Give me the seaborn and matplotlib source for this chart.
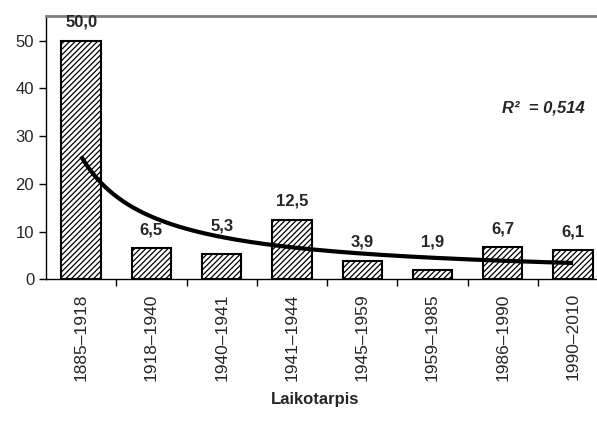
import matplotlib
matplotlib.use("Agg")
import matplotlib.pyplot as plt
import seaborn as sns
import numpy as np

periods = ["1885–1918", "1918–1940", "1940–1941", "1941–1944",
           "1945–1959", "1959–1985", "1986–1990", "1990–2010"]
values = [50.0, 6.5, 5.3, 12.5, 3.9, 1.9, 6.7, 6.1]
r2_label = "R²  = 0,514"

sns.set_style("ticks")
plt.rcParams["font.family"] = ["Liberation Sans", "DejaVu Sans"]
plt.rcParams["hatch.linewidth"] = 0.9

fig = plt.figure(figsize=(5.97, 4.21), dpi=100)
ax = fig.add_axes([0.077, 0.3366, 0.923, 0.6254])

sns.barplot(x=periods, y=values, color="white", edgecolor="black",
            linewidth=1.5, width=0.56, saturation=1, ax=ax)
for p in ax.patches:
    p.set_hatch("//////")

# value labels (two were nudged up off the trendline in the original)
raised = {2: 7, 5: 7}
for i, v in enumerate(values):
    ax.annotate(f"{v:.1f}".replace(".", ","), (i, v), xytext=(0, 8 + raised.get(i, 0)),
                textcoords="offset points", ha="center", va="bottom",
                fontsize=12, fontweight="bold")

# power trendline (y = b * x^a), fitted on the data
xs = np.arange(1, len(values) + 1)
a, lnb = np.polyfit(np.log(xs), np.log(values), 1)
xx = np.linspace(1, len(values), 200)
ax.plot(xx - 1, np.exp(lnb) * xx ** a, color="black", lw=3, solid_capstyle="butt")

ax.text(7.17, 35.9, r2_label, ha="right", va="center",
        fontsize=12, fontweight="bold", fontstyle="italic")

ax.set_ylim(0, 55.2)
ax.set_xlim(-0.5, 7.34)
ax.set_yticks([0, 10, 20, 30, 40, 50])
ax.set_xticks(np.arange(len(periods)))
ax.set_xticklabels(periods, rotation=90, fontsize=12.5)
ax.tick_params(axis="x", length=0, pad=10)
ax.tick_params(axis="y", labelsize=12, length=5, width=1, color="black")
ax.set_xticks(np.arange(len(periods) - 1) + 0.5, minor=True)
ax.tick_params(axis="x", which="minor", length=5, width=1, color="black")

ax.spines["right"].set_visible(False)
ax.spines["top"].set_color("#808080")
ax.spines["top"].set_linewidth(2)
ax.spines["left"].set_color("black")
ax.spines["bottom"].set_color("black")
ax.spines["left"].set_linewidth(1)
ax.spines["bottom"].set_linewidth(1)

ax.set_ylabel("")
ax.set_xlabel("Laikotarpis", fontsize=12, fontweight="bold")
ax.xaxis.set_label_coords((315 - 46) / 551, -(400 - 279.3) / 263.3)
ax.xaxis.label.set_va("center")

fig.savefig("out.png", dpi=100)
